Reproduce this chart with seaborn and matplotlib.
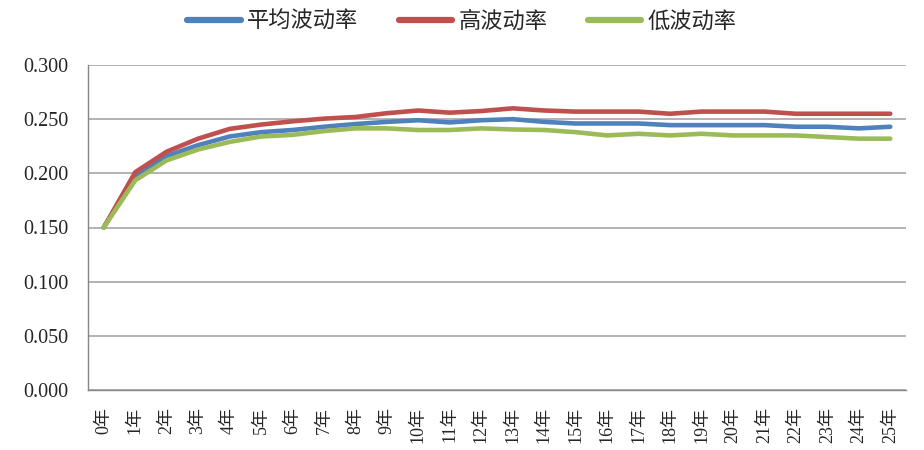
import numpy as np
import pandas as pd
import matplotlib
matplotlib.use('Agg')
import matplotlib.pyplot as plt
import seaborn as sns

sns.set_style('white')
plt.rcParams['font.family'] = ['Liberation Serif', 'Noto Sans CJK SC', 'DejaVu Sans']
plt.rcParams['axes.unicode_minus'] = False

# 数据
years = [f'{i}年' for i in range(26)]
avg_vol = [0.150, 0.198, 0.216, 0.226, 0.234, 0.238, 0.240, 0.243, 0.2455, 0.2475,
           0.249, 0.247, 0.249, 0.250, 0.2475, 0.246, 0.246, 0.246, 0.2445, 0.2445,
           0.2445, 0.2445, 0.243, 0.243, 0.2415, 0.243]
high_vol = [0.150, 0.201, 0.220, 0.232, 0.241, 0.245, 0.248, 0.2505, 0.252, 0.2555,
            0.258, 0.256, 0.2575, 0.260, 0.258, 0.257, 0.257, 0.257, 0.255, 0.257,
            0.257, 0.257, 0.255, 0.255, 0.255, 0.255]
low_vol = [0.150, 0.1935, 0.212, 0.222, 0.229, 0.234, 0.2355, 0.239, 0.2415, 0.2415,
           0.240, 0.240, 0.2415, 0.2405, 0.240, 0.238, 0.235, 0.2365, 0.235, 0.2365,
           0.235, 0.235, 0.235, 0.2335, 0.232, 0.232]
series_names = ['平均波动率', '高波动率', '低波动率']
colors = ['#4F81BD', '#C0504D', '#9BBB59']

df = pd.DataFrame({
    '年份': years * 3,
    '波动率': avg_vol + high_vol + low_vol,
    '类型': np.repeat(series_names, len(years)),
})

fig = plt.figure(figsize=(9.24, 4.5), dpi=100)
ax = fig.add_axes([88 / 924, 1 - 390 / 450, (906 - 88) / 924, (390 - 65) / 450])

sns.lineplot(data=df, x='年份', y='波动率', hue='类型', palette=colors,
             linewidth=3.3, sort=False, ax=ax, legend=True)

ax.set_xlim(-0.5, len(years) - 0.5)
ax.set_ylim(0, 0.3)
ax.set_yticks(np.arange(0, 0.301, 0.05))
ax.set_yticklabels([f'{v:.3f}' for v in np.arange(0, 0.301, 0.05)], fontsize=14.5)
ax.set_xticks(range(len(years)))
ax.set_xticklabels(years, rotation=90, fontsize=13)
ax.set_xticks(np.arange(-0.5, len(years), 1), minor=True)
ax.tick_params(axis='x', which='major', length=0, pad=12)
ax.tick_params(axis='x', which='minor', length=5, color='#868686', direction='out')
ax.tick_params(axis='y', length=5, color='#868686', direction='out', pad=9)
ax.grid(axis='y', color='#a6a6a6', linewidth=1.2)
ax.set_xlabel('')
ax.set_ylabel('')
for s in ['top', 'right']:
    ax.spines[s].set_visible(False)
for s in ['left', 'bottom']:
    ax.spines[s].set_color('#868686')
    ax.spines[s].set_linewidth(1.0)

handles, labels = ax.get_legend_handles_labels()
ax.legend(handles, labels, loc='center', bbox_to_anchor=(0.50, 0.951), bbox_transform=fig.transFigure,
          ncol=3, frameon=False, fontsize=16, handlelength=2.4, columnspacing=1.8, handletextpad=0.3)
for line in ax.get_legend().get_lines():
    line.set_linewidth(4.5)

plt.savefig('out.png', dpi=100)
